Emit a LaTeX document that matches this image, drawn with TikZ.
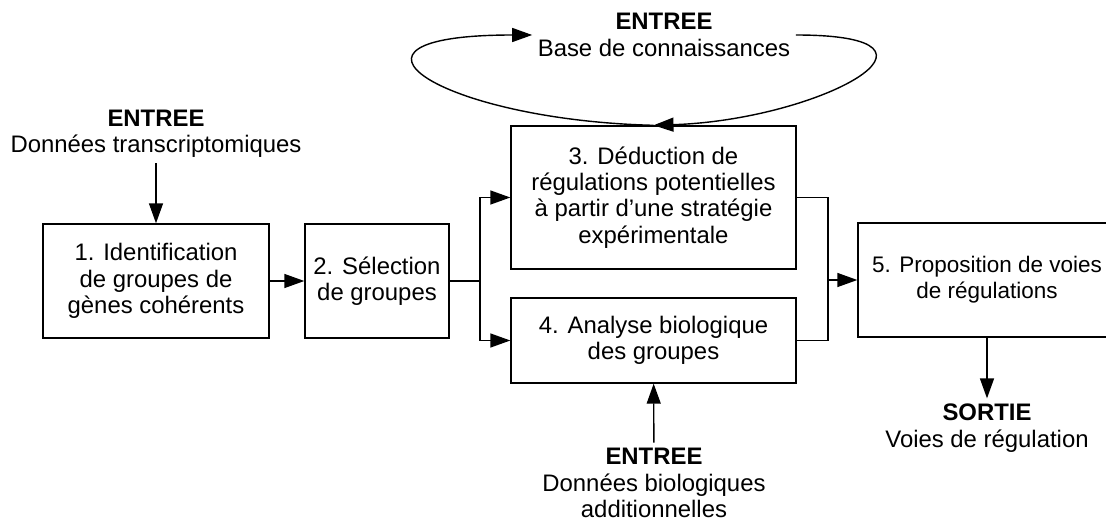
\documentclass[tikz,border=0pt]{standalone}
\usepackage{fontspec}
\setmainfont{Liberation Sans}
\usetikzlibrary{arrows.meta,positioning}

\begin{document}
\begin{tikzpicture}[x=0.02cm,y=-0.02cm,
  font=\fontsize{13.6}{15}\selectfont,
  etape/.style={draw,line width=0.8pt,align=center,inner sep=0pt},
  entree/.style={align=center,inner sep=3pt},
  trait/.style={line width=0.8pt},
  fleche/.style={line width=0.8pt,-{Triangle[length=4mm,width=2.8mm]}}]
\useasboundingbox (0,0) rectangle (1106,520);

% etapes
\node [etape,minimum width=4.52cm,minimum height=2.28cm] (e1) at (156,281)
  {1. Identification\\de groupes de\\gènes cohérents};
\node [etape,minimum width=2.88cm,minimum height=2.28cm] (e2) at (377,281)
  {2. Sélection\\de groupes};
\node [etape,minimum width=5.7cm,minimum height=2.86cm] (e3) at (653.5,197.5)
  {3. Déduction de\\régulations potentielles\\à partir d'une stratégie\\expérimentale};
\node [etape,minimum width=5.7cm,minimum height=1.7cm] (e4) at (653.5,340.5)
  {4. Analyse biologique\\des groupes};
\node [etape,minimum width=5.16cm,minimum height=2.28cm,
  font=\fontsize{12.8}{15}\selectfont] (e5) at (987,280)
  {5. Proposition de voies\\de régulations};

% entrees et sortie
\node [entree] (in1) at (156,134) {\textbf{ENTREE}\\Données transcriptomiques};
\node [entree] (kb) at (664,35) {\textbf{ENTREE}\\Base de connaissances};
\node [entree] (in4) at (654,483) {\textbf{ENTREE}\\Données biologiques\\additionnelles};
\node [entree] (out) at (987,428) {\textbf{SORTIE}\\Voies de régulation};

\coordinate (split) at (480,281);
\coordinate (merge) at (828,280);

\draw [fleche] (in1) -- (e1);
\draw [fleche] (e1) -- (e2);
\draw [trait] (e2.east) -- (split);
\draw [fleche] (split) |- (e3.west);
\draw [fleche] (split) |- (e4.west);
\draw [trait] (e3.east) -| (merge);
\draw [trait] (e4.east) -| (merge);
\draw [fleche] (merge) -- (e5.west);
\draw [fleche] (in4) -- (e4);
\draw [fleche] (e5) -- (out);

% boucle base de connaissances
\draw [fleche] (e3.north) .. controls (440,120) and (310,35) .. (kb.west);
\draw [fleche] (kb.east) .. controls (975,35) and (820,120) .. (e3.north);

\end{tikzpicture}
\end{document}
